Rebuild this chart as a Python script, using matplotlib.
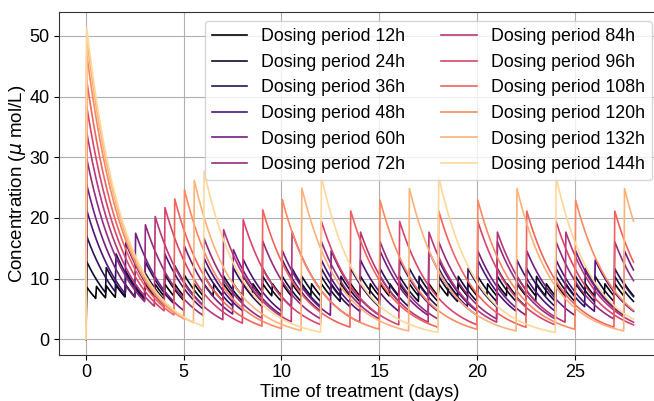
import numpy as np
import matplotlib.pyplot as plt
from matplotlib import cm

plt.rcParams['font.family'] = ['Liberation Sans', 'DejaVu Sans']
plt.rcParams['font.size'] = 13

# dosing schedules (hours between doses)
periods = [12, 24, 36, 48, 60, 72, 84, 96, 108, 120, 132, 144]
# concentration right after the first (loading) dose, umol/L
first_peak = [8.6, 12.8, 17.0, 21.3, 25.5, 29.8, 34.1, 38.4, 42.7, 47.0, 49.5, 51.3]
# rise in concentration from each following dose, umol/L
dose_step = [2.13, 4.27, 6.40, 8.53, 10.7, 12.8, 14.9, 17.1, 19.2, 21.3, 23.5, 25.6]
# first-order elimination rate (1/day)
k_el = 0.53

t_end = 672  # hours
dt = 1.0


def concentration(period, peak0, step):
    t = np.arange(0, t_end + dt, dt)
    c = np.zeros_like(t)
    doses = np.arange(0, t_end, period)
    for i, td in enumerate(doses):
        amount = peak0 if i == 0 else step
        after = t > td
        c[after] += amount * np.exp(-k_el * (t[after] - td - dt) / 24.0)
    return t / 24.0, c


def main():
    fig = plt.figure(figsize=(6.54, 4.01), dpi=100)
    # right spine falls just past the edge of the image
    ax = fig.add_axes([0.0895, 0.115, 0.921, 0.854])
    colors = cm.magma(np.linspace(0, 0.92, len(periods)))

    for p, c0, s, col in zip(periods, first_peak, dose_step, colors):
        days, conc = concentration(p, c0, s)
        ax.plot(days, conc, color=col, lw=1.2, label=f'Dosing period {p}h')

    ax.set_xlabel('Time of treatment (days)', fontsize=13.2, labelpad=2)
    ax.set_ylabel(r'Concentration ($\mu$ mol/L)', fontsize=13.5, labelpad=1)
    ax.set_xticks([0, 5, 10, 15, 20, 25])
    ax.tick_params(labelsize=13, pad=3)
    ax.grid(True, color='#b0b0b0', lw=0.8)
    ax.set_axisbelow(True)
    for sp in ax.spines.values():
        sp.set_color('#333333')
    ax.legend(loc='upper right', ncol=2, fontsize=12.8, labelspacing=0.48)
    fig.savefig('out.png', dpi=100)


if __name__ == "__main__":
    main()
